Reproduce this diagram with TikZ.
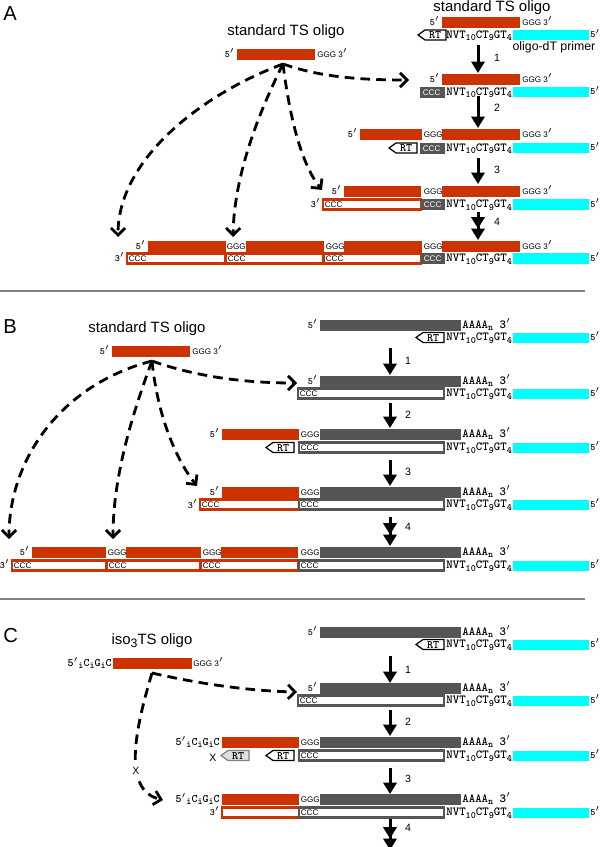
\documentclass[tikz,border=0pt]{standalone}
\usepackage{fontspec}
\setmainfont{Liberation Sans}
\usetikzlibrary{arrows.meta}

\definecolor{tsred}{RGB}{204,51,0}
\definecolor{rnagrey}{RGB}{85,85,85}
\definecolor{dtcyan}{RGB}{0,255,255}

\newcommand{\lo}[1]{\raisebox{-0.45ex}{\fontsize{5.5}{6}\selectfont #1}}
\newcommand{\seqfont}{\fontsize{7}{8}\selectfont\ttfamily\bfseries}
\newcommand{\tipfont}{\fontsize{5.5}{6}\selectfont\ttfamily\bfseries}

\tikzset{
  panel/.style={font=\fontsize{11.5}{13}\selectfont, inner sep=0pt},
  title/.style={font=\fontsize{8.5}{10}\selectfont, inner sep=0pt},
  small/.style={font=\fontsize{7}{8}\selectfont, inner sep=0pt},
  stepnum/.style={font=\fontsize{6}{7}\selectfont, inner sep=0pt},
  nt/.style={font=\fontsize{4.6}{5}\selectfont, inner sep=0pt},
  seq/.style={font=\seqfont, inner sep=0pt},
  endlbl/.style={font=\tipfont, inner sep=0pt},
  isoend/.style={font=\fontsize{6.5}{7}\selectfont\ttfamily\bfseries, inner sep=0pt},
  rtlbl/.style={font=\fontsize{6.5}{7}\selectfont\ttfamily\bfseries, inner sep=0pt},
  tsbar/.style={fill=tsred},
  rnabar/.style={fill=rnagrey},
  dtbar/.style={fill=dtcyan},
  redcdna/.style={draw=tsred, fill=white, line width=1.2pt},
  greycdna/.style={draw=rnagrey, fill=white, line width=1.2pt},
  cccbox/.style={draw=rnagrey, fill=rnagrey, line width=1.1pt},
  rtbox/.style={draw=black, fill=white, line width=0.7pt},
  rtghost/.style={draw=gray, fill=gray!25, line width=0.7pt},
  stepar/.style={line width=1.7pt, -{Triangle[length=6.5pt,width=7.5pt]}},
  steppair/.style={line width=1.7pt, -{Triangle[length=6.5pt,width=7.5pt]Triangle[length=6.5pt,width=7.5pt]}},
  jump/.style={line width=1.6pt, dash pattern=on 5.5pt off 3.5pt, -{Straight Barb[length=4pt,width=8pt]}},
  sep/.style={draw=gray, line width=0.6pt}
}

% lower strand: NVT anchor, oligo-dT primer and its 5' end
\newcommand{\dtline}[2]{%
  \node[seq, anchor=base west] (#1nvt) at (446,#2+8.3) {NVT\lo{10}CT\lo{9}GT\lo{4}};
  \fill[dtbar] (513,#2) rectangle (589,#2+10.5);
  \node[endlbl, anchor=base west] (#1end) at (590,#2+8) {5$'$};
}
% reverse transcriptase
\newcommand{\rtsym}[4]{%
  \draw[#4] (#2,#3) -- ++(7,-5) -- ++(21,0) -- ++(0,10) -- ++(-21,0) -- cycle;
  \node[rtlbl] (#1) at (#2+17,#3+0.3) {RT};
}
% piece of first strand cDNA with its CCC
\newcommand{\cdna}[5]{%
  \draw[#2] (#3,#5) rectangle (#4,#5+10);
  \node[nt, anchor=base west] (#1) at (#3+1.5,#5+7.8) {CCC};
}
% short dark CCC next to the primer
\newcommand{\cccplug}[4]{%
  \draw[cccbox] (#2,#4) rectangle (#3,#4+10);
  \node[nt, text=white, anchor=base west] (#1) at (#2+1.5,#4+7.8) {CCC};
}

\begin{document}
\begin{tikzpicture}[x=0.02cm, y=-0.02cm]
\useasboundingbox (0,0) rectangle (600,847);

%% ---------------- A ----------------
\node[panel, anchor=north west] (pA) at (3,6) {A};

% free TS oligo
\node[title, anchor=base] (tsAlbl) at (286,36) {standard TS oligo};
\fill[tsbar] (237,49) rectangle (315,60);
\node[endlbl, anchor=base east] (tsAfive) at (235,57.5) {5$'$};
\node[nt, anchor=base west] (tsAthree) at (317,57.5) {GGG 3$'$};
\coordinate (tsA) at (283,64);

% start
\node[title, anchor=base] (a0lbl) at (492,11.5) {standard TS oligo};
\fill[tsbar] (442,17) rectangle (520,28);
\node[endlbl, anchor=base east] (a0five) at (440,25.5) {5$'$};
\node[nt, anchor=base west] (a0three) at (522,25.5) {GGG 3$'$};
\rtsym{rtA0}{418}{35}{rtbox}
\dtline{dA0}{30}
\node[small, anchor=base] (dtlbl) at (554,51) {oligo-dT primer};

% steps
\foreach \n/\ya/\yb/\yl in {1/45/73/58, 2/96/128/108, 3/158/184/170} {
  \coordinate (sA\n) at (478,\ya);
  \coordinate (eA\n) at (478,\yb);
  \draw[stepar] (sA\n) -- (eA\n);
  \node[stepnum] (nA\n) at (497,\yl) {\n};
}
\coordinate (sA4) at (478,212);
\coordinate (eA4) at (478,240);
\draw[steppair] (sA4) -- (eA4);
\node[stepnum] (nA4) at (497,222) {4};

% row 1
\fill[tsbar] (442,74) rectangle (520,85);
\node[endlbl, anchor=base east] (a1five) at (440,82.5) {5$'$};
\node[nt, anchor=base west] (a1three) at (522,82.5) {GGG 3$'$};
\cccplug{a1ccc}{421}{444}{87.5}
\dtline{dA1}{87}

% row 2
\fill[tsbar] (360,129) rectangle (422,140);
\fill[tsbar] (442,129) rectangle (520,140);
\node[endlbl, anchor=base east] (a2five) at (358,137.5) {5$'$};
\node[nt, anchor=base west] (a2g) at (423.5,137.5) {GGG};
\node[nt, anchor=base west] (a2three) at (522,137.5) {GGG 3$'$};
\rtsym{rtA2}{389}{148}{rtbox}
\cccplug{a2ccc}{421}{444}{143.5}
\dtline{dA2}{143}

% row 3
\fill[tsbar] (344,186) rectangle (421,197);
\fill[tsbar] (442,186) rectangle (520,197);
\node[endlbl, anchor=base east] (a3five) at (342,194.5) {5$'$};
\node[nt, anchor=base west] (a3g) at (423.5,194.5) {GGG};
\node[nt, anchor=base west] (a3three) at (522,194.5) {GGG 3$'$};
\node[endlbl, anchor=base east] (a3tail) at (321,207.5) {3$'$};
\cdna{a3c1}{redcdna}{323}{421}{199.5}
\cccplug{a3c2}{422}{444}{199.5}
\dtline{dA3}{199.5}

% row 4
\foreach \x in {148,246,344,442}
  \fill[tsbar] (\x,241) rectangle ++(77.5,11);
\foreach \x in {226,325,423}
  \node[nt, anchor=base west] (a4g\x) at (\x+0.5,249.5) {GGG};
\node[endlbl, anchor=base east] (a4five) at (146,249.5) {5$'$};
\node[nt, anchor=base west] (a4three) at (522,249.5) {GGG 3$'$};
\node[endlbl, anchor=base east] (a4tail) at (125,261.5) {3$'$};
\foreach \a/\b in {127/225,226/323,324/421} {
  \cdna{a4c\a}{redcdna}{\a}{\b}{253.5}
}
\cccplug{a4c422}{422}{444}{253.5}
\dtline{dA4}{253.5}

% template switches
\coordinate (jA1) at (409,80);
\coordinate (jA2) at (322,190);
\coordinate (jA3) at (233,237);
\coordinate (jA4) at (118,237);
\draw[jump] (tsA) .. controls (320,77) and (360,80) .. (jA1);
\draw[jump] (tsA) .. controls (290,120) and (302,165) .. (jA2);
\draw[jump] (tsA) .. controls (255,120) and (234,180) .. (jA3);
\draw[jump] (tsA) .. controls (200,95) and (118,160) .. (jA4);

\draw[sep] (0,291) -- (585,291);

%% ---------------- B ----------------
\node[panel, anchor=north west] (pB) at (3,319) {B};

\node[title, anchor=base] (tsBlbl) at (147,333) {standard TS oligo};
\fill[tsbar] (112,346) rectangle (190,357);
\node[endlbl, anchor=base east] (tsBfive) at (110,354.5) {5$'$};
\node[nt, anchor=base west] (tsBthree) at (192,354.5) {GGG 3$'$};
\coordinate (tsB) at (152,361);

% start
\fill[rnabar] (320,320) rectangle (461,331);
\node[endlbl, anchor=base east] (b0five) at (318,328.5) {5$'$};
\node[seq, anchor=base west] (b0polyA) at (462,328.5) {AAAA\lo{n} 3$'$};
\rtsym{rtB0}{416}{337.5}{rtbox}
\dtline{dB0}{332.5}

\foreach \n/\ya/\yb/\yl in {1/348/375/361, 2/403/428/415, 3/460/486/472} {
  \coordinate (sB\n) at (390,\ya);
  \coordinate (eB\n) at (390,\yb);
  \draw[stepar] (sB\n) -- (eB\n);
  \node[stepnum] (nB\n) at (408,\yl) {\n};
}
\coordinate (sB4) at (390,517);
\coordinate (eB4) at (390,546);
\draw[steppair] (sB4) -- (eB4);
\node[stepnum] (nB4) at (408,527) {4};

% row 1
\fill[rnabar] (320,376) rectangle (461,387);
\node[endlbl, anchor=base east] (b1five) at (318,384.5) {5$'$};
\node[seq, anchor=base west] (b1polyA) at (462,384.5) {AAAA\lo{n} 3$'$};
\cdna{b1ccc}{greycdna}{298}{444}{388.5}
\dtline{dB1}{388.5}

% row 2
\fill[tsbar] (222,429) rectangle (299,440);
\fill[rnabar] (320,429) rectangle (461,440);
\node[endlbl, anchor=base east] (b2five) at (220,437.5) {5$'$};
\node[nt, anchor=base west] (b2g) at (300.5,437.5) {GGG};
\node[seq, anchor=base west] (b2polyA) at (462,437.5) {AAAA\lo{n} 3$'$};
\rtsym{rtB2}{266}{447.5}{rtbox}
\cdna{b2ccc}{greycdna}{299}{444}{442.5}
\dtline{dB2}{442.5}

% row 3
\fill[tsbar] (222,487) rectangle (299,498);
\fill[rnabar] (320,487) rectangle (461,498);
\node[endlbl, anchor=base east] (b3five) at (220,495.5) {5$'$};
\node[nt, anchor=base west] (b3g) at (300.5,495.5) {GGG};
\node[seq, anchor=base west] (b3polyA) at (462,495.5) {AAAA\lo{n} 3$'$};
\node[endlbl, anchor=base east] (b3tail) at (198,508) {3$'$};
\cdna{b3c1}{redcdna}{200}{299}{499.5}
\cdna{b3c2}{greycdna}{299}{444}{499.5}
\dtline{dB3}{499.5}

% row 4
\foreach \a/\b in {32/106,126/201,221/298}
  \fill[tsbar] (\a,547) rectangle (\b,558);
\fill[rnabar] (320,547) rectangle (461,558);
\foreach \x in {107,202,300}
  \node[nt, anchor=base west] (b4g\x) at (\x+0.5,555.5) {GGG};
\node[endlbl, anchor=base east] (b4five) at (30,555.5) {5$'$};
\node[seq, anchor=base west] (b4polyA) at (462,555.5) {AAAA\lo{n} 3$'$};
\node[endlbl, anchor=base east] (b4tail) at (10,568.5) {3$'$};
\foreach \a/\b in {12/106,107/200,201/298} {
  \cdna{b4c\a}{redcdna}{\a}{\b}{560.5}
}
\cdna{b4c299}{greycdna}{299}{444}{560.5}
\dtline{dB4}{560.5}

\coordinate (jB1) at (297,383);
\coordinate (jB2) at (197,486);
\coordinate (jB3) at (113,539);
\coordinate (jB4) at (9,539);
\draw[jump] (tsB) .. controls (200,378) and (250,383) .. (jB1);
\draw[jump] (tsB) .. controls (158,420) and (178,462) .. (jB2);
\draw[jump] (tsB) .. controls (130,420) and (113,480) .. (jB3);
\draw[jump] (tsB) .. controls (60,385) and (9,460) .. (jB4);

\draw[sep] (0,599) -- (585,599);

%% ---------------- C ----------------
\node[panel, anchor=north west] (pC) at (3,628) {C};

\node[title, anchor=base] (tsClbl) at (152,644) {iso\raisebox{-0.4ex}{\fontsize{7}{8}\selectfont 3}TS oligo};
\fill[tsbar] (113,658) rectangle (192,669);
\node[isoend, anchor=base east] (tsCfive) at (112,666.5) {5$'$\lo{i}C\lo{i}G\lo{i}C};
\node[nt, anchor=base west] (tsCthree) at (193,666.5) {GGG 3$'$};
\coordinate (tsC) at (152,673);

% start
\fill[rnabar] (320,627) rectangle (461,638);
\node[endlbl, anchor=base east] (c0five) at (318,635.5) {5$'$};
\node[seq, anchor=base west] (c0polyA) at (462,635.5) {AAAA\lo{n} 3$'$};
\rtsym{rtC0}{416}{644.5}{rtbox}
\dtline{dC0}{639.5}

\foreach \n/\ya/\yb/\yl in {1/656/683/670, 2/710/736/722, 3/768/794/779} {
  \coordinate (sC\n) at (390,\ya);
  \coordinate (eC\n) at (390,\yb);
  \draw[stepar] (sC\n) -- (eC\n);
  \node[stepnum] (nC\n) at (408,\yl) {\n};
}
\coordinate (sC4) at (390,818);
\coordinate (eC4) at (390,850);
\draw[steppair] (sC4) -- (eC4);
\node[stepnum] (nC4) at (408,828) {4};

% row 1
\fill[rnabar] (320,683) rectangle (461,694);
\node[endlbl, anchor=base east] (c1five) at (318,691.5) {5$'$};
\node[seq, anchor=base west] (c1polyA) at (462,691.5) {AAAA\lo{n} 3$'$};
\cdna{c1ccc}{greycdna}{298}{444}{695.5}
\dtline{dC1}{695.5}

% row 2
\fill[tsbar] (222,737) rectangle (299,748);
\fill[rnabar] (320,737) rectangle (461,748);
\node[isoend, anchor=base east] (c2five) at (220,745.5) {5$'$\lo{i}C\lo{i}G\lo{i}C};
\node[nt, anchor=base west] (c2g) at (300.5,745.5) {GGG};
\node[seq, anchor=base west] (c2polyA) at (462,745.5) {AAAA\lo{n} 3$'$};
\rtsym{rtC2x}{221}{755.5}{rtghost}
\node[stepnum] (c2no) at (213,758) {X};
\rtsym{rtC2}{266}{755.5}{rtbox}
\cdna{c2ccc}{greycdna}{299}{444}{750.5}
\dtline{dC2}{750.5}

% row 3
\fill[tsbar] (222,794) rectangle (299,805);
\fill[rnabar] (320,794) rectangle (461,805);
\node[isoend, anchor=base east] (c3five) at (220,802.5) {5$'$\lo{i}C\lo{i}G\lo{i}C};
\node[nt, anchor=base west] (c3g) at (300.5,802.5) {GGG};
\node[seq, anchor=base west] (c3polyA) at (462,802.5) {AAAA\lo{n} 3$'$};
\node[endlbl, anchor=base east] (c3tail) at (220,815) {3$'$};
\draw[redcdna] (222,807.5) rectangle (299,817.5);
\cdna{c3ccc}{greycdna}{299}{444}{807.5}
\dtline{dC3}{807.5}

\coordinate (jC1) at (297,692);
\coordinate (jC2) at (163,800);
\draw[jump] (tsC) .. controls (200,684) and (250,691) .. (jC1);
\draw[jump] (tsC) .. controls (135,730) and (122,790) .. (jC2);
\node[stepnum, fill=white, inner sep=1.2pt] (cblock) at (136,771) {X};

\end{tikzpicture}
\end{document}
